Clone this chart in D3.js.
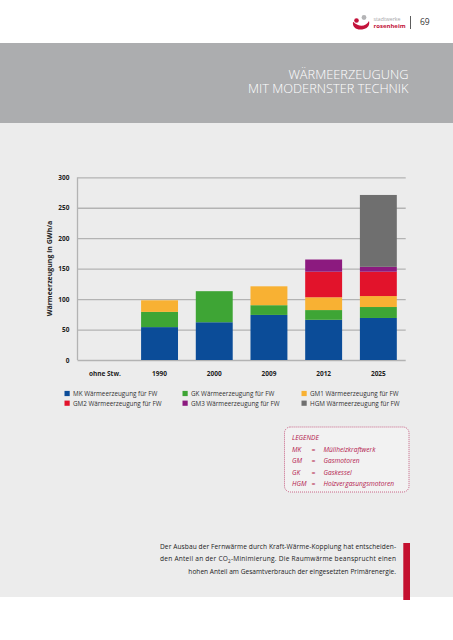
<!DOCTYPE html>
<html><head><meta charset="utf-8">
<script src="https://cdn.jsdelivr.net/npm/d3@7"></script>
<style>
html,body{margin:0;padding:0;background:#fff;}
svg{display:block;font-family:"Open Sans","Liberation Sans",sans-serif;}
</style></head>
<body>
<svg id="c" width="453" height="640"></svg>
<script>
const categories = ["ohne Stw.", "1990", "2000", "2009", "2012", "2025"];
const seriesKeys = ["MK", "GK", "GM1", "GM2", "GM3", "HGM"];
const MK  = [0, 54, 62, 74, 66, 69];
const GK  = [0, 25, 51, 16, 16, 18];
const GM1 = [0, 19, 0, 31, 21, 18];
const GM2 = [0, 0, 0, 0, 42, 40];
const GM3 = [0, 0, 0, 0, 20, 8];
const HGM = [0, 0, 0, 0, 0, 118];
const yTicks = [0, 50, 100, 150, 200, 250, 300];
const legendLabels = ["MK Wärmeerzeugung für FW", "GM2 Wärmeerzeugung für FW",
  "GK Wärmeerzeugung für FW", "GM3 Wärmeerzeugung für FW",
  "GM1 Wärmeerzeugung für FW", "HGM Wärmeerzeugung für FW"];
const legendKeys = ["MK", "GM2", "GK", "GM3", "GM1", "HGM"];
const abbrevs = ["MK", "GM", "GK", "HGM"];
const meanings = ["Müllheizkraftwerk", "Gasmotoren", "Gaskessel", "Holzvergasungsmotoren"];
const titleLines = ["WÄRMEERZEUGUNG", "MIT MODERNSTER TECHNIK"];
const colors = {MK:"#0b4c98", GK:"#3ea535", GM1:"#f8b133", GM2:"#e2132b", GM3:"#8c1a7f", HGM:"#6f6f6f"};

const seriesVals = {MK, GK, GM1, GM2, GM3, HGM};
const table = categories.map((c, i) => {
  const o = {cat: c};
  seriesKeys.forEach(k => o[k] = seriesVals[k][i]);
  return o;
});

const svg = d3.select("#c");
// backgrounds
svg.append("rect").attr("x",0).attr("y",0).attr("width",453).attr("height",640).attr("fill","#fff");
svg.append("rect").attr("x",0).attr("y",43).attr("width",453).attr("height",80).attr("fill","#acadaf");
svg.append("rect").attr("x",0).attr("y",123).attr("width",453).attr("height",474).attr("fill","#ececec");

// header logo
const lg = svg.append("g");
lg.append("path").attr("d","M353,22 C352,28 358,31 364,29 C368,28 370,25 369,21 C367,25 362,27 358,25 C355,24 354,22 353,22 Z").attr("fill","#c3133b");
lg.append("circle").attr("cx",356.5).attr("cy",20.5).attr("r",2.3).attr("fill","#c3133b");
lg.append("circle").attr("cx",364).attr("cy",17.5).attr("r",2.4).attr("fill","#b4b4b6");
lg.append("text").attr("x",373.5).attr("y",21).attr("font-size",5.2).attr("fill","#a5a5a8").text("stadtwerke");
lg.append("text").attr("x",373.5).attr("y",27.5).attr("font-size",6).attr("font-weight",700).attr("fill","#c3133b").text("rosenheim");
svg.append("line").attr("x1",410.5).attr("x2",410.5).attr("y1",16).attr("y2",29).attr("stroke","#333").attr("stroke-width",0.8);
svg.append("text").attr("x",420).attr("y",24.5).attr("font-size",8.5).attr("fill","#333").text("69");

// title (one text element, two lines)
const tt = svg.append("text").attr("text-anchor","end").attr("font-size",12.8).attr("font-weight",300).attr("fill","#fff");
tt.append("tspan").attr("x",408.5).attr("y",79).text(titleLines[0]);
tt.append("tspan").attr("x",408.5).attr("y",93.3).text(titleLines[1]);

// chart
const pLeft = 77.5, pRight = 405.7, pTop = 177.3, pBottom = 360;
const x = d3.scaleBand().domain(categories).range([pLeft, pRight]).paddingInner(0.325).paddingOuter(0.1625);
const y = d3.scaleLinear().domain([0, 300]).range([pBottom, pTop]);

const g = svg.append("g");
const yAxis = g.append("g").attr("transform",`translate(${pLeft},0)`)
  .call(d3.axisLeft(y).tickValues(yTicks).tickSize(-(pRight-pLeft)).tickPadding(8));
yAxis.select(".domain").remove();
yAxis.selectAll(".tick line").attr("stroke","#b3b3b3").attr("stroke-width",1.3);
yAxis.selectAll(".tick text").attr("font-size",6.5).attr("font-weight",700).attr("fill","#222").attr("font-family","Open Sans, sans-serif");
g.append("line").attr("x1",pLeft).attr("x2",pLeft).attr("y1",pTop).attr("y2",pBottom).attr("stroke","#b3b3b3").attr("stroke-width",1.3);

const stack = d3.stack().keys(seriesKeys)(table);
g.selectAll("g.s").data(stack).join("g").attr("class","s").attr("fill", d => colors[d.key])
  .selectAll("rect").data(d => d.filter(p => p[1] > p[0])).join("rect")
  .attr("x", d => x(d.data.cat)).attr("width", x.bandwidth())
  .attr("y", d => y(d[1])).attr("height", d => y(d[0]) - y(d[1]));

const xAxis = g.append("g").attr("transform",`translate(0,${pBottom})`)
  .call(d3.axisBottom(x).tickSize(0).tickPadding(11));
xAxis.select(".domain").remove();
xAxis.selectAll(".tick text").attr("font-size",6.5).attr("font-weight",700).attr("fill","#222").attr("font-family","Open Sans, sans-serif");

g.append("text").attr("transform","translate(51.5,268.5) rotate(-90)").attr("text-anchor","middle")
  .attr("font-size",7).attr("font-weight",700).attr("fill","#222").text("Wärmeerzeugung in GWh/a");

// legend
const lgx = [64.5, 182.5, 301.5], lgy = [393.5, 403.2];
legendKeys.forEach((k, i) => {
  const col = Math.floor(i/2), row = i % 2;
  svg.append("rect").attr("x", lgx[col]).attr("y", lgy[row]-2.6).attr("width",5.2).attr("height",5.2).attr("fill", colors[k]);
  svg.append("text").attr("x", lgx[col]+8.5).attr("y", lgy[row]+2.3).attr("font-size",6.3).attr("fill","#333").text(legendLabels[i]);
});

// legend box
const boxColor = "#b3164c";
svg.append("rect").attr("x",284.5).attr("y",427).attr("width",124.5).attr("height",65).attr("rx",6)
  .attr("fill","#fff").attr("fill-opacity",0.35).attr("stroke",boxColor).attr("stroke-width",0.8).attr("stroke-dasharray","0.8,1.2");
svg.append("text").attr("x",292).attr("y",440).attr("font-size",6.6).attr("font-style","italic").attr("fill",boxColor).text("LEGENDE");
abbrevs.forEach((a, i) => {
  const yy = 451.5 + i*11.5;
  svg.append("text").attr("x",292).attr("y",yy).attr("font-size",6.6).attr("font-style","italic").attr("fill",boxColor).text(a);
  svg.append("text").attr("x",311.5).attr("y",yy).attr("font-size",6.6).attr("font-style","italic").attr("fill",boxColor).text("=");
  svg.append("text").attr("x",323.5).attr("y",yy).attr("font-size",6.6).attr("font-style","italic").attr("fill",boxColor).text(meanings[i]);
});

// paragraph
const pf = 6.6, pc = "#222";
svg.append("text").attr("x",160).attr("y",548.5).attr("font-size",pf).attr("fill",pc)
  .attr("textLength",236).attr("lengthAdjust","spacing").text("Der Ausbau der Fernwärme durch Kraft-Wärme-Kopplung hat entscheiden-");
const l2 = svg.append("text").attr("x",160).attr("y",561).attr("font-size",pf).attr("fill",pc)
  .attr("textLength",236).attr("lengthAdjust","spacing");
l2.append("tspan").text("den Anteil an der CO");
l2.append("tspan").attr("font-size",4.5).attr("dy",1.5).text("2");
l2.append("tspan").attr("dy",-1.5).text("-Minimierung. Die Raumwärme beansprucht einen");
svg.append("text").attr("x",396).attr("y",573.5).attr("text-anchor","end").attr("font-size",pf).attr("fill",pc)
  .text("hohen Anteil am Gesamtverbrauch der eingesetzten Primärenergie.");
svg.append("rect").attr("x",403.3).attr("y",543).attr("width",6.7).attr("height",57).attr("fill","#c4102f");
</script>
</body></html>
